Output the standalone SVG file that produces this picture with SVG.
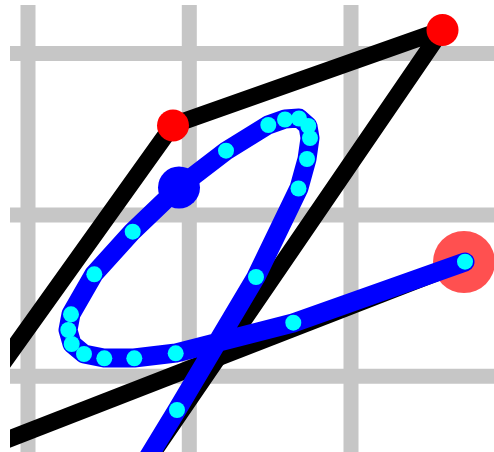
<svg xmlns="http://www.w3.org/2000/svg" width="494" height="452" viewBox="0 0 494 452">
  <defs>
    <clipPath id="frame"><rect x="10" y="5" width="484" height="447"/></clipPath>
    <style>
      .grid line { stroke: #c6c6c6; stroke-width: 15; }
      .poly { fill: none; stroke: #000000; stroke-width: 17; stroke-linejoin: round; }
      .curve { fill: none; stroke: #0000ff; stroke-width: 19; stroke-linejoin: round; stroke-linecap: round; }
      .ctrl { fill: #ff0000; }
      .sample { fill: #00ffff; }
    </style>
  </defs>
  <rect width="494" height="452" fill="#ffffff"/>
  <g clip-path="url(#frame)">
    <g id="grid" class="grid">
      <line x1="28" y1="0" x2="28" y2="452"/>
      <line x1="189.3" y1="0" x2="189.3" y2="452"/>
      <line x1="351" y1="0" x2="351" y2="452"/>
      <line x1="0" y1="53.5" x2="494" y2="53.5"/>
      <line x1="0" y1="215" x2="494" y2="215"/>
      <line x1="0" y1="376.3" x2="494" y2="376.3"/>
    </g>
    <g id="control-polygon">
      <path class="poly" d="M -40 423 L 173 125 L 442 30 L 100 530"/>
      <path class="poly" d="M 464 262 L -40 458"/>
    </g>
    <circle id="end-halo" cx="464" cy="262" r="31" fill="#ff5050"/>
    <g id="control-points">
      <circle class="ctrl" cx="173" cy="125.5" r="16"/>
      <circle class="ctrl" cx="442.5" cy="30" r="16"/>
    </g>
    <path id="curve" class="curve" d="M 138 474 L 177 410 L 256 277 L 299 188 L 307 159 L 310 138 L 308 126 L 299 118 L 285 119 L 268 125 L 226 151 L 179 187 L 132 232 L 94 274 L 71 314 L 68 330 L 72 344 L 84 354 L 104 358 L 134 358 L 176 353 L 293 323 L 465 262"/>
    <circle id="handle" cx="179" cy="187.5" r="21" fill="#0000ff"/>
    <g id="samples" class="sample">
      <circle cx="177" cy="410" r="8"/>
      <circle cx="256" cy="277" r="8"/>
      <circle cx="298.5" cy="188.5" r="8"/>
      <circle cx="307" cy="159" r="8"/>
      <circle cx="310" cy="138" r="8"/>
      <circle cx="308.3" cy="126" r="8"/>
      <circle cx="299" cy="118.5" r="8"/>
      <circle cx="285" cy="119.5" r="8"/>
      <circle cx="268.3" cy="125" r="8"/>
      <circle cx="226" cy="150.7" r="8"/>
      <circle cx="132.7" cy="231.7" r="8"/>
      <circle cx="94.3" cy="274.3" r="8"/>
      <circle cx="71" cy="314.3" r="8"/>
      <circle cx="68.3" cy="330" r="8"/>
      <circle cx="71.7" cy="344" r="8"/>
      <circle cx="84" cy="354" r="8"/>
      <circle cx="104.3" cy="358.3" r="8"/>
      <circle cx="134.3" cy="358.3" r="8"/>
      <circle cx="175.7" cy="353.3" r="8"/>
      <circle cx="293.3" cy="322.7" r="8"/>
      <circle cx="465" cy="261.7" r="8"/>
    </g>
  </g>
</svg>
